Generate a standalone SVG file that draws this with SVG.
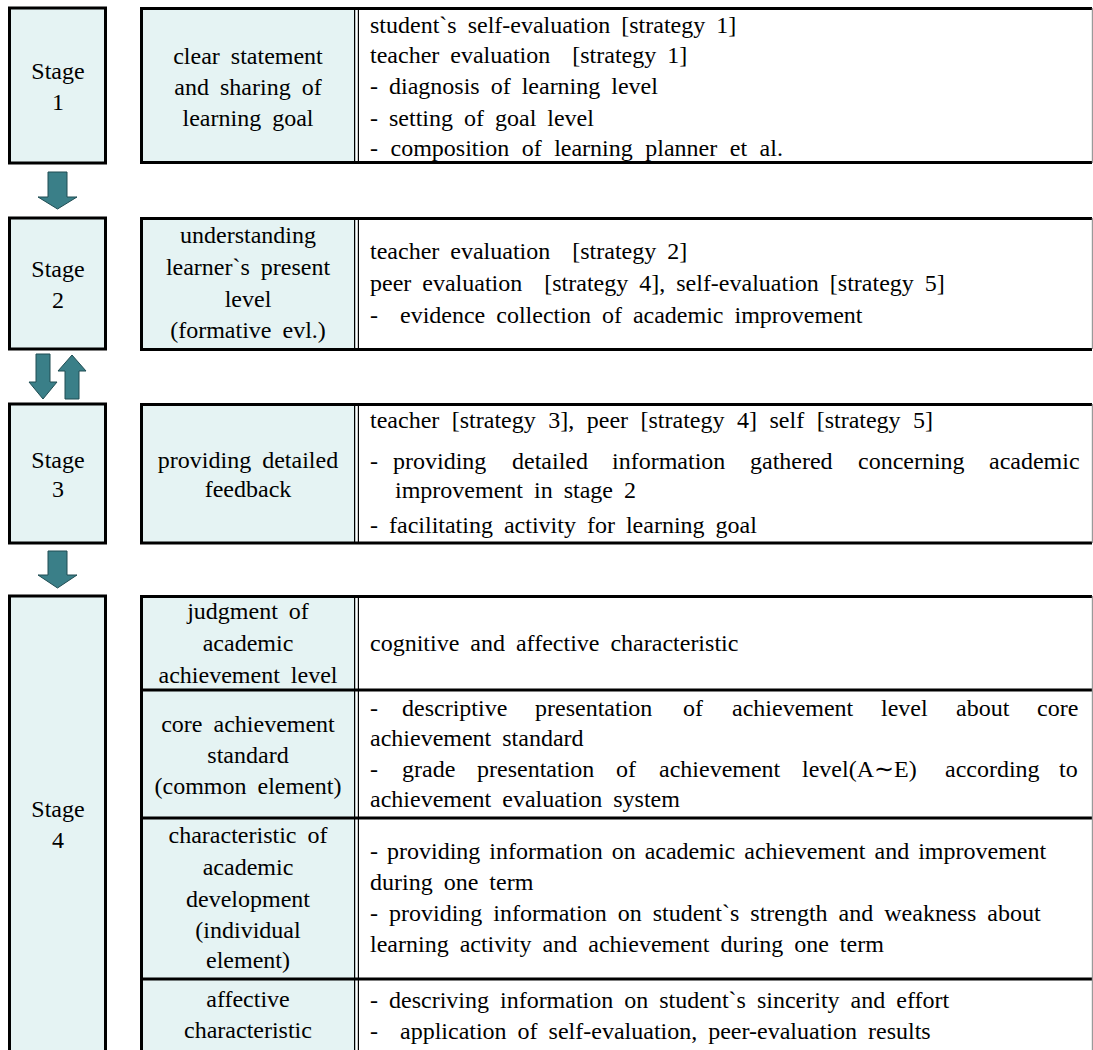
<svg xmlns="http://www.w3.org/2000/svg" width="1093" height="1050" viewBox="0 0 1093 1050" font-family="Liberation Serif, Times New Roman, serif">
<style>
.t{font-size:24px;fill:#000;word-spacing:5px}
.c{text-anchor:middle}
.ws3{word-spacing:3px}
.ws6{word-spacing:6.5px}
.stage{fill:#E5F3F3;stroke:#000;stroke-width:3}
.lc{fill:#E5F3F3}
.rc{fill:#fff}
.bd{fill:none;stroke:#000;stroke-width:3}
.rb{stroke:#9a9a9a;stroke-width:1.2}
.dl{stroke:#000;stroke-width:1.2}
.arr{fill:#3A7F88;stroke:#1f4c52;stroke-width:1}
</style>
<rect width="1093" height="1050" fill="#fff"/>

<g id="stage1">
<rect class="stage" x="9.5" y="8" width="96" height="155"/>
<text class="t c" x="58" y="79">Stage</text>
<text class="t c" x="58" y="110">1</text>
</g>
<g id="stage1-detail">
<rect class="lc" x="140" y="8" width="216" height="155"/>
<rect class="rc" x="356" y="8" width="736" height="155"/>
<line class="dl" x1="354.6" y1="8" x2="354.6" y2="163"/>
<line class="dl" x1="358.4" y1="8" x2="358.4" y2="163"/>
<path class="bd" d="M1092,8.5 H141.5 V162.5 H1092"/>
<line class="rb" x1="1092.4" y1="8" x2="1092.4" y2="163"/>
<text class="t c" x="248" y="64">clear statement</text>
<text class="t c" x="248" y="95">and sharing of</text>
<text class="t c" x="248" y="126">learning goal</text>
<text class="t" x="370" y="33">student`s self-evaluation [strategy 1]</text>
<text class="t" x="370" y="63">teacher evaluation &#160;[strategy 1]</text>
<text class="t" x="370" y="94">- diagnosis of learning level</text>
<text class="t" x="370" y="126">- setting of goal level</text>
<text class="t ws6" x="370" y="156">- composition of learning planner et al.</text>
</g>

<g id="stage2">
<rect class="stage" x="9.5" y="218" width="96" height="131"/>
<text class="t c" x="58" y="277">Stage</text>
<text class="t c" x="58" y="308">2</text>
</g>
<g id="stage2-detail">
<rect class="lc" x="140" y="218" width="216" height="131"/>
<rect class="rc" x="356" y="218" width="736" height="131"/>
<line class="dl" x1="354.6" y1="218" x2="354.6" y2="349"/>
<line class="dl" x1="358.4" y1="218" x2="358.4" y2="349"/>
<path class="bd" d="M1092,218.5 H141.5 V349.5 H1092"/>
<line class="rb" x1="1092.4" y1="218" x2="1092.4" y2="349"/>
<text class="t c" x="248" y="243">understanding</text>
<text class="t c" x="248" y="275">learner`s present</text>
<text class="t c" x="248" y="307">level</text>
<text class="t c" x="248" y="338">(formative evl.)</text>
<text class="t" x="370" y="259">teacher evaluation &#160;[strategy 2]</text>
<text class="t" x="370" y="291">peer evaluation &#160;[strategy 4], self-evaluation [strategy 5]</text>
<text class="t" x="370" y="323">- &#160;evidence collection of academic improvement</text>
</g>

<g id="stage3">
<rect class="stage" x="9.5" y="404" width="96" height="139"/>
<text class="t c" x="58" y="468">Stage</text>
<text class="t c" x="58" y="497">3</text>
</g>
<g id="stage3-detail">
<rect class="lc" x="140" y="404" width="216" height="139"/>
<rect class="rc" x="356" y="404" width="736" height="139"/>
<line class="dl" x1="354.6" y1="404" x2="354.6" y2="543"/>
<line class="dl" x1="358.4" y1="404" x2="358.4" y2="543"/>
<path class="bd" d="M1092,404.5 H141.5 V543 H1092"/>
<line class="rb" x1="1092.4" y1="404" x2="1092.4" y2="543"/>
<text class="t c" x="248" y="468">providing detailed</text>
<text class="t c" x="248" y="497">feedback</text>
<text class="t ws6" x="370" y="428">teacher [strategy 3], peer [strategy 4] self [strategy 5]</text>
<text class="t" y="469"><tspan x="370">-</tspan><tspan x="393">providing</tspan><tspan x="512">detailed</tspan><tspan x="612">information</tspan><tspan x="750">gathered</tspan><tspan x="858">concerning</tspan><tspan x="989">academic</tspan></text>
<text class="t" x="395" y="498">improvement in stage 2</text>
<text class="t" x="370" y="533">- facilitating activity for learning goal</text>
</g>

<g id="stage4">
<rect class="stage" x="9.5" y="596" width="96" height="470"/>
<text class="t c" x="58" y="817">Stage</text>
<text class="t c" x="58" y="848">4</text>
</g>
<g id="stage4-detail">
<rect class="lc" x="140" y="596" width="216" height="470"/>
<rect class="rc" x="356" y="596" width="736" height="470"/>
<line class="dl" x1="354.6" y1="596" x2="354.6" y2="1066"/>
<line class="dl" x1="358.4" y1="596" x2="358.4" y2="1066"/>
<path class="bd" d="M1092,596.5 H141.5 V1066"/>
<line class="bd" x1="140" y1="690" x2="1092" y2="690"/>
<line class="bd" x1="140" y1="818" x2="1092" y2="818"/>
<line class="bd" x1="140" y1="979" x2="1092" y2="979"/>
<line class="rb" x1="1092.4" y1="596" x2="1092.4" y2="1066"/>

<text class="t c" x="248" y="619">judgment of</text>
<text class="t c" x="248" y="651">academic</text>
<text class="t c" x="248" y="683">achievement level</text>
<text class="t" x="370" y="651">cognitive and affective characteristic</text>

<text class="t c" x="248" y="732">core achievement</text>
<text class="t c" x="248" y="763">standard</text>
<text class="t c" x="248" y="794">(common element)</text>
<text class="t" y="716"><tspan x="370">-</tspan><tspan x="402">descriptive</tspan><tspan x="535">presentation</tspan><tspan x="683">of</tspan><tspan x="732">achievement</tspan><tspan x="881">level</tspan><tspan x="956">about</tspan><tspan x="1037">core</tspan></text>
<text class="t" x="370" y="746">achievement standard</text>
<text class="t" y="777"><tspan x="370">-</tspan><tspan x="402">grade</tspan><tspan x="477">presentation</tspan><tspan x="616">of</tspan><tspan x="659">achievement</tspan><tspan x="802">level(A∼E)</tspan><tspan x="945">according</tspan><tspan x="1059">to</tspan></text>
<text class="t" x="370" y="807">achievement evaluation system</text>

<text class="t c" x="248" y="843">characteristic of</text>
<text class="t c" x="248" y="875">academic</text>
<text class="t c" x="248" y="907">development</text>
<text class="t c" x="248" y="938">(individual</text>
<text class="t c" x="248" y="968">element)</text>
<text class="t ws3" x="370" y="859">- providing information on academic achievement and improvement</text>
<text class="t" x="370" y="890">during one term</text>
<text class="t" x="370" y="921">- providing information on student`s strength and weakness about</text>
<text class="t" x="370" y="952">learning activity and achievement during one term</text>

<text class="t c" x="248" y="1007">affective</text>
<text class="t c" x="248" y="1038">characteristic</text>
<text class="t" x="370" y="1008">- descriving information on student`s sincerity and effort</text>
<text class="t" x="370" y="1039">- &#160;application of self-evaluation, peer-evaluation results</text>
</g>

<g id="connectors">
<polygon class="arr" points="48,172 67,172 67,197 77,197 57.5,209 38,197 48,197"/>
<polygon class="arr" points="36,354 50,354 50,382 57,382 43,399 29,382 36,382"/>
<polygon class="arr" points="65,399 79,399 79,371 86,371 72,355 58,371 65,371"/>
<polygon class="arr" points="48,551 67,551 67,575 77,575 57.5,588 38,575 48,575"/>
</g>
</svg>
